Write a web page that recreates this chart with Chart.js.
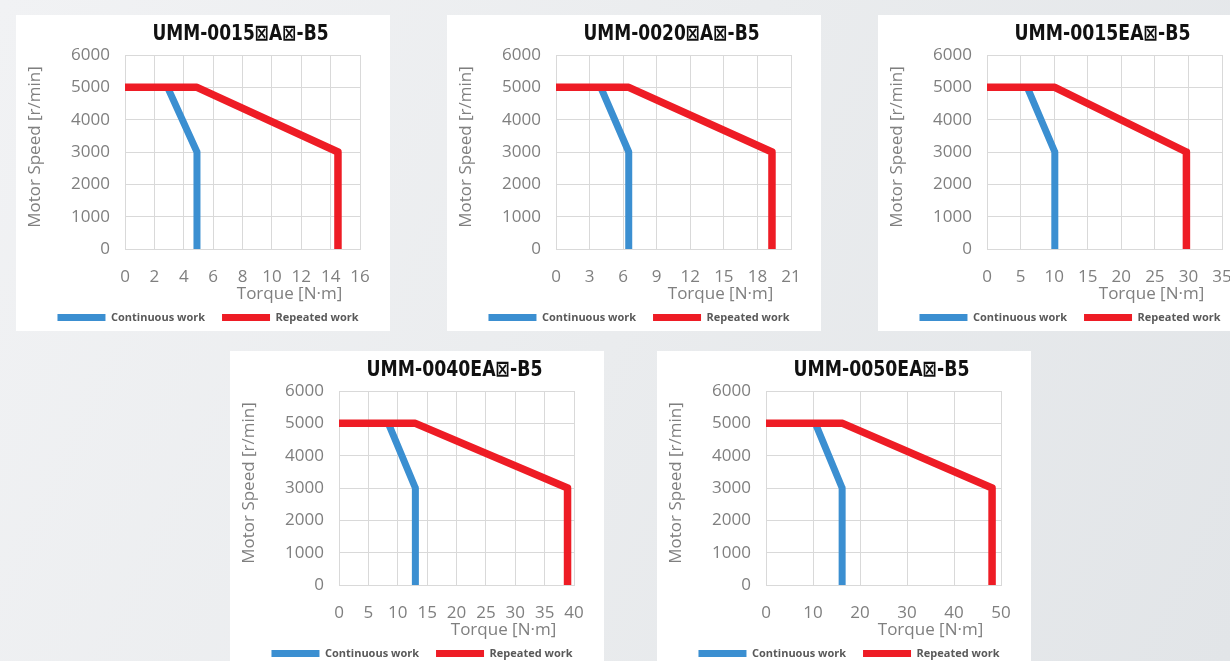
<!DOCTYPE html>
<html>
<head>
<meta charset="utf-8">
<script src="https://cdn.jsdelivr.net/npm/chart.js@4/dist/chart.umd.min.js"></script>
<style>
  html, body { margin:0; padding:0; width:1230px; height:661px; overflow:hidden; }
  body { position:relative; background:linear-gradient(115deg, #f1f2f4 0%, #eaecee 50%, #e2e5e8 100%); }
  .panel { position:absolute; width:374px; height:316px; background:#ffffff; overflow:hidden; }
  .panel canvas { position:absolute; left:0; top:0; }
</style>
</head>
<body>
<div class="panel" style="left:16px;top:15px"><canvas id="c0" width="384" height="318"></canvas></div>
<div class="panel" style="left:447px;top:15px"><canvas id="c1" width="384" height="318"></canvas></div>
<div class="panel" style="left:878px;top:15px"><canvas id="c2" width="384" height="318"></canvas></div>
<div class="panel" style="left:230px;top:351px"><canvas id="c3" width="384" height="318"></canvas></div>
<div class="panel" style="left:657px;top:351px"><canvas id="c4" width="384" height="318"></canvas></div>
<script>
// ---- data ----
const titles = ["UMM-0015\u22A0A\u22A0-B5", "UMM-0020\u22A0A\u22A0-B5", "UMM-0015EA\u22A0-B5", "UMM-0040EA\u22A0-B5", "UMM-0050EA\u22A0-B5"];
const xMax = [16, 21, 35, 40, 50];
const xStep = [2, 3, 5, 5, 10];
const yMax = 6000;
const yStep = 1000;
const seriesNames = ["Continuous work", "Repeated work"];
const contSpeed = [5000, 3000, 0];
const contTorque = [
  [2.9, 4.9, 4.9],
  [4.0, 6.5, 6.5],
  [6.0, 10.1, 10.1],
  [8.4, 13.0, 13.0],
  [10.5, 16.2, 16.2]
];
const repSpeed = [5000, 5000, 3000, 0];
const repTorque = [
  [0, 4.9, 14.5, 14.5],
  [0, 6.5, 19.3, 19.3],
  [0, 10.1, 29.7, 29.7],
  [0, 13.0, 38.9, 38.9],
  [0, 16.3, 48.1, 48.1]
];
const xTitle = "Torque [N\u00B7m]";
const yTitle = "Motor Speed [r/min]";

// ---- style ----
const BLUE = '#3b8fd1';
const RED = '#ee1c25';
const GRID = '#d9d9d9';
const AXIS_TEXT = '#7f7f7f';
const TICK_FONT = { family: "'Open Sans', sans-serif", size: 17 };

const decor = {
  id: 'decor',
  afterDraw(chart, args, opts) {
    const { ctx, chartArea: a } = chart;
    ctx.save();
    ctx.font = "bold 22px 'Liberation Sans Narrow', 'DejaVu Sans Condensed', sans-serif";
    ctx.fillStyle = '#111111';
    ctx.textAlign = 'center';
    ctx.textBaseline = 'middle';
    const w = ctx.measureText(opts.title).width;
    const sx = Math.min(1, 176 / w);
    ctx.translate((a.left + a.right) / 2 - 2, a.top - 21);
    ctx.scale(sx, 1);
    ctx.fillText(opts.title, 0, 0);
    ctx.restore();

    ctx.save();
    ctx.font = "17px 'Open Sans', sans-serif";
    ctx.fillStyle = AXIS_TEXT;
    ctx.textAlign = 'center';
    ctx.textBaseline = 'middle';
    ctx.fillText(xTitle, a.right - 70.5, a.bottom + 45);
    ctx.translate(19.5, (a.top + a.bottom) / 2 - 5);
    ctx.rotate(-Math.PI / 2);
    ctx.fillText(yTitle, 0, 0);
    ctx.restore();
  }
};

function pts(xs, ys) { return xs.map((x, k) => ({ x: x, y: ys[k] })); }
const plain = v => String(v);

titles.forEach((t, i) => {
  new Chart(document.getElementById('c' + i), {
    type: 'line',
    data: {
      datasets: [
        { label: seriesNames[0], data: pts(contTorque[i], contSpeed), borderColor: BLUE, backgroundColor: BLUE,
          borderWidth: 7, pointRadius: 0, tension: 0, fill: false, order: 1, borderJoinStyle: 'round', borderCapStyle: 'butt' },
        { label: seriesNames[1], data: pts(repTorque[i], repSpeed), borderColor: RED, backgroundColor: RED,
          borderWidth: 7.5, pointRadius: 0, tension: 0, fill: false, order: 0, borderJoinStyle: 'round', borderCapStyle: 'butt' }
      ]
    },
    options: {
      responsive: false,
      animation: false,
      events: [],
      layout: { padding: { top: 40, left: 0, right: 0, bottom: 0 } },
      scales: {
        x: {
          type: 'linear', min: 0, max: xMax[i],
          ticks: { stepSize: xStep[i], autoSkip: false, maxRotation: 0, minRotation: 0, padding: 18, color: AXIS_TEXT, font: TICK_FONT, callback: plain },
          grid: { color: GRID, lineWidth: 1, drawTicks: false },
          border: { color: GRID },
          afterFit(s) { s.height = 46; }
        },
        y: {
          type: 'linear', min: 0, max: yMax,
          ticks: { stepSize: yStep, padding: 15, color: AXIS_TEXT, font: TICK_FONT, callback: plain },
          grid: { color: GRID, lineWidth: 1, drawTicks: false },
          border: { color: GRID },
          afterFit(s) { s.width = 109; }
        },
        yR: {
          type: 'linear', position: 'right', display: true,
          grid: { display: false, drawTicks: false },
          border: { display: false },
          ticks: { display: false },
          afterFit(s) { s.width = 40; }
        }
      },
      plugins: {
        legend: {
          position: 'bottom',
          labels: {
            boxWidth: 48, boxHeight: 7, padding: 17,
            color: '#595959',
            font: { family: "'Open Sans', sans-serif", weight: 'bold', size: 11 },
            sort: (a, b) => a.datasetIndex - b.datasetIndex,
            generateLabels(chart) {
              return Chart.defaults.plugins.legend.labels.generateLabels(chart).map(l => Object.assign(l, { lineWidth: 0, fillStyle: l.strokeStyle }));
            }
          }
        },
        tooltip: { enabled: false },
        title: { display: false },
        decor: { title: t }
      }
    },
    plugins: [decor]
  });
});
</script>
</body>
</html>
